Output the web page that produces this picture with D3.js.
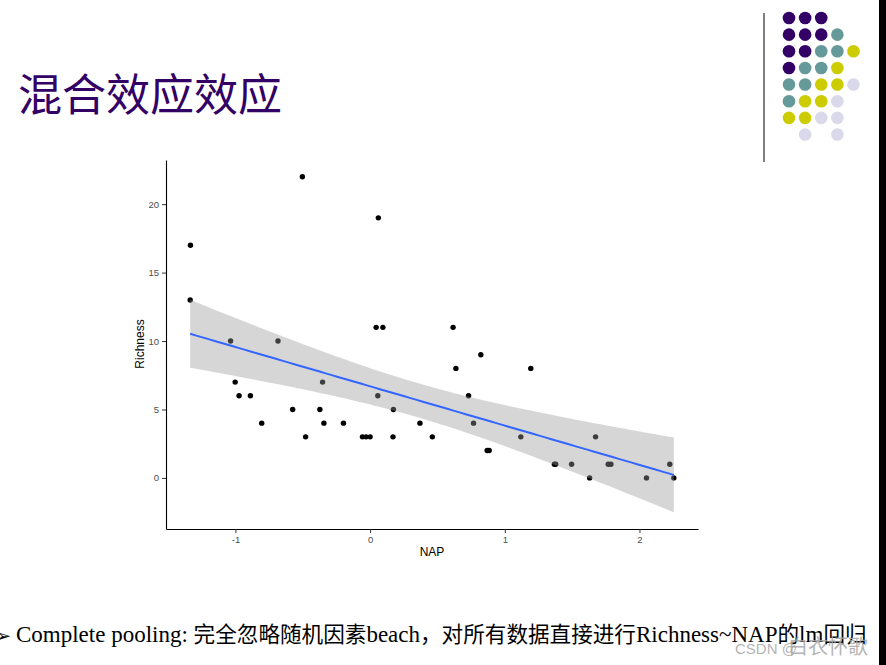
<!DOCTYPE html>
<html>
<head>
<meta charset="utf-8">
<script src="https://cdn.jsdelivr.net/npm/d3@7"></script>
<style>
  body { margin: 0; background: #fff; overflow: hidden; }
  svg { display: block; }
</style>
</head>
<body>
<script>
// RIKZ data
const nap = [-1.334, -0.503, 0.061, -1.336, -1.036, -0.684, 0.045, 0.095, 0.616,
  -1.002, -0.973, -0.889, -0.805, -0.575, -0.479, -0.373, -0.353, -0.343, -0.198,
  -0.057, -0.030, 0.000, 0.057, 0.173, 0.170, 0.370,
  0.462, 0.637, 0.822, 0.731, 0.768, 0.869, 0.884, 1.193, 1.119, 1.368, 1.378,
  1.496, 1.630, 1.674, 1.768, 1.788, 2.052, 2.225, 2.255];
const richness = [17, 22, 19, 13, 10, 10, 11, 11, 11,
  7, 6, 6, 4, 5, 3, 5, 7, 4, 4,
  3, 3, 3, 6, 5, 3, 4,
  3, 8, 9, 6, 4, 2, 2, 8, 3, 1, 1,
  1, 0, 3, 1, 1, 0, 1, 0];
const xTicks = [-1, 0, 1, 2];
const yTicks = [0, 5, 10, 15, 20];

// decorative dot grid (top right)
const dotRows = [
  ['P', 'P', 'P', null, null],
  ['P', 'P', 'P', 'T', null],
  ['P', 'P', 'T', 'T', 'Y'],
  ['P', 'T', 'T', 'Y', null],
  ['T', 'T', 'Y', 'Y', 'L'],
  ['T', 'Y', 'Y', 'L', null],
  ['Y', 'Y', 'L', 'L', null],
  [null, 'L', null, 'L', null]
];
const dotColors = { P: '#330066', T: '#669999', Y: '#cccc00', L: '#d9d9eb' };

const titleText = '混合效应效应';
// bottom note pieces: [text, is CJK]
const noteParts = [
  ['Complete pooling: ', false],
  ['完全忽略随机因素', true],
  ['beach', false],
  ['，对所有数据直接进行', true],
  ['Richness~NAP', false],
  ['的', true],
  ['lm', false],
  ['回归', true]
];

const W = 886, H = 665;
const svg = d3.select('body').append('svg').attr('width', W).attr('height', H);

//---------- title + decoration ----------
svg.append('text')
  .attr('x', 18).attr('y', 111)
  .attr('font-family', '"Noto Sans CJK SC", sans-serif')
  .attr('font-size', 44)
  .attr('fill', '#330066')
  .text(titleText);

svg.append('line')
  .attr('x1', 764).attr('x2', 764).attr('y1', 13).attr('y2', 162)
  .attr('stroke', '#7f7f7f').attr('stroke-width', 2);

const dotX = d3.scaleLinear().domain([0, 4]).range([789, 853.5]);
const dotY = d3.scaleLinear().domain([0, 7]).range([18, 134.5]);
const dots = [];
dotRows.forEach((row, r) => row.forEach((c, i) => { if (c) dots.push({ r, i, c }); }));
svg.append('g').selectAll('circle').data(dots).join('circle')
  .attr('cx', d => dotX(d.i)).attr('cy', d => dotY(d.r))
  .attr('r', 6.3).attr('fill', d => dotColors[d.c]);

svg.append('rect').attr('x', 879).attr('y', 0).attr('width', 7).attr('height', H).attr('fill', '#000');

//---------- lm fit ----------
const n = nap.length;
const xbar = d3.mean(nap), ybar = d3.mean(richness);
let sxx = 0, sxy = 0;
nap.forEach((x, i) => { sxx += (x - xbar) ** 2; sxy += (x - xbar) * (richness[i] - ybar); });
const slope = sxy / sxx, icpt = ybar - slope * xbar;
let sse = 0;
nap.forEach((x, i) => { sse += (richness[i] - icpt - slope * x) ** 2; });
const s = Math.sqrt(sse / (n - 2));
const tq = 2.0167; // qt(0.975, 43)

const [xmin, xmax] = d3.extent(nap);
const fit = d3.range(80).map(k => {
  const x = xmin + (xmax - xmin) * k / 79;
  const y = icpt + slope * x;
  const se = s * Math.sqrt(1 / n + (x - xbar) ** 2 / sxx);
  return { x, y, lo: y - tq * se, hi: y + tq * se };
});

//---------- scales ----------
const yLo = Math.min(d3.min(richness), d3.min(fit, d => d.lo));
const yHi = Math.max(d3.max(richness), d3.max(fit, d => d.hi));
const xPad = (xmax - xmin) * 0.05, yPad = (yHi - yLo) * 0.05;

const x = d3.scaleLinear().domain([xmin - xPad, xmax + xPad]).range([166, 698]);
const y = d3.scaleLinear().domain([yLo - yPad, yHi + yPad]).range([529, 160]);

const plot = svg.append('g');

plot.append('g').selectAll('circle')
  .data(nap.map((v, i) => [v, richness[i]]))
  .join('circle')
  .attr('cx', d => x(d[0])).attr('cy', d => y(d[1]))
  .attr('r', 2.7).attr('fill', '#000');

plot.append('path')
  .datum(fit)
  .attr('d', d3.area().x(d => x(d.x)).y0(d => y(d.lo)).y1(d => y(d.hi)))
  .attr('fill', '#999999').attr('fill-opacity', 0.4);

plot.append('path')
  .datum(fit)
  .attr('d', d3.line().x(d => x(d.x)).y(d => y(d.y)))
  .attr('fill', 'none').attr('stroke', '#3366ff').attr('stroke-width', 2);

//---------- axes ----------
const xAxis = plot.append('g').attr('transform', 'translate(0,529)')
  .call(d3.axisBottom(x).tickValues(xTicks).tickSizeInner(4).tickSizeOuter(0).tickPadding(3));
const yAxis = plot.append('g').attr('transform', 'translate(166,0)')
  .call(d3.axisLeft(y).tickValues(yTicks).tickSizeInner(4).tickSizeOuter(0).tickPadding(3));

[xAxis, yAxis].forEach(a => {
  a.select('.domain').attr('stroke', '#000').attr('stroke-width', 1.1);
  a.selectAll('.tick line').attr('stroke', '#333');
  a.selectAll('.tick text')
    .attr('fill', '#4d4d4d')
    .attr('font-family', '"Liberation Sans", Arial, sans-serif')
    .attr('font-size', 9.5)
    .text(d => d3.format('d')(d).replace('−', '-'));
});

plot.append('text')
  .attr('x', 432).attr('y', 556)
  .attr('text-anchor', 'middle')
  .attr('font-family', '"Liberation Sans", Arial, sans-serif')
  .attr('font-size', 12).attr('fill', '#000')
  .text('NAP');

plot.append('text')
  .attr('transform', 'translate(144,344) rotate(-90)')
  .attr('text-anchor', 'middle')
  .attr('font-family', '"Liberation Sans", Arial, sans-serif')
  .attr('font-size', 12).attr('fill', '#000')
  .text('Richness');

//---------- note + watermark ----------
svg.append('text')
  .attr('x', -4).attr('y', 642)
  .attr('font-family', '"DejaVu Sans", sans-serif')
  .attr('font-size', 18).attr('fill', '#000')
  .text('➢');

const note = svg.append('text').attr('x', 16).attr('y', 642).attr('fill', '#000');
note.selectAll('tspan').data(noteParts).join('tspan')
  .attr('font-family', d => d[1] ? '"Noto Sans CJK SC", sans-serif' : '"Liberation Serif", serif')
  .attr('font-size', d => d[1] ? 21.6 : 23)
  .text(d => d[0]);

const wm = svg.append('text').attr('y', 654).attr('fill', '#a6a6a6').attr('fill-opacity', 0.85);
wm.append('tspan').attr('x', 735)
  .attr('font-family', '"Liberation Sans", sans-serif').attr('font-size', 15)
  .text('CSDN @');
wm.append('tspan').attr('x', 788)
  .attr('font-family', '"Noto Sans CJK SC", sans-serif').attr('font-size', 20)
  .text('白衣怀歌');
</script>
</body>
</html>
